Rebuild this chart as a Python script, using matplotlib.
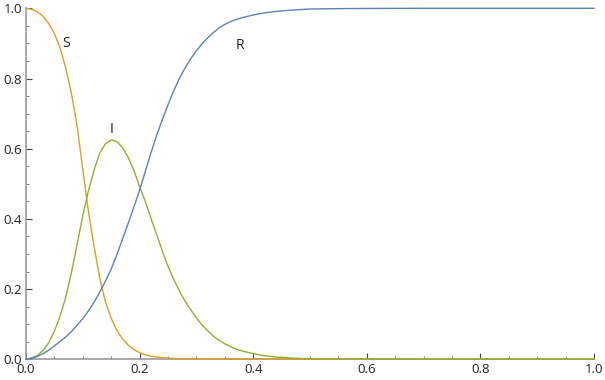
import matplotlib.pyplot as plt
from matplotlib.ticker import MultipleLocator

# values
s_t = [0.0, 0.01, 0.02, 0.03, 0.04, 0.05, 0.06, 0.07, 0.08, 0.09, 0.10, 0.11,
       0.12, 0.13, 0.14, 0.15, 0.16, 0.17, 0.18, 0.19, 0.20, 0.21, 0.22, 0.24,
       0.26, 0.28, 0.30, 0.35, 0.40, 1.0]
s_val = [1.0, 0.997, 0.990, 0.977, 0.957, 0.928, 0.887, 0.830, 0.757, 0.665, 0.540,
         0.420, 0.320, 0.230, 0.163, 0.117, 0.082, 0.058, 0.040, 0.028, 0.019, 0.013,
         0.009, 0.0045, 0.0022, 0.001, 0.0005, 0.0001, 0.0, 0.0]

i_t = [0.0, 0.01, 0.02, 0.03, 0.04, 0.05, 0.06, 0.07, 0.08, 0.09, 0.10, 0.11,
       0.12, 0.13, 0.14, 0.15, 0.16, 0.17, 0.18, 0.19, 0.20, 0.21, 0.22, 0.23,
       0.24, 0.25, 0.26, 0.27, 0.28, 0.29, 0.30, 0.31, 0.32, 0.33, 0.34, 0.35,
       0.36, 0.37, 0.38, 0.40, 0.42, 0.44, 0.46, 0.48, 0.50, 0.55, 0.60, 0.70, 1.0]
i_val = [0.0, 0.004, 0.011, 0.025, 0.047, 0.080, 0.123, 0.177, 0.247, 0.327, 0.410,
         0.480, 0.540, 0.588, 0.614, 0.625, 0.620, 0.603, 0.575, 0.538, 0.492, 0.450,
         0.402, 0.356, 0.308, 0.265, 0.228, 0.195, 0.166, 0.141, 0.118, 0.098, 0.081,
         0.066, 0.054, 0.044, 0.036, 0.029, 0.024, 0.016, 0.010, 0.0065, 0.0042,
         0.0027, 0.0018, 0.0007, 0.0003, 0.0, 0.0]

r_t = [0.0, 0.01, 0.02, 0.03, 0.04, 0.05, 0.06, 0.07, 0.08, 0.09, 0.10, 0.11,
       0.12, 0.13, 0.14, 0.15, 0.16, 0.17, 0.18, 0.19, 0.20, 0.21, 0.22, 0.23,
       0.24, 0.25, 0.26, 0.27, 0.28, 0.29, 0.30, 0.31, 0.32, 0.33, 0.34, 0.35,
       0.36, 0.37, 0.38, 0.40, 0.42, 0.44, 0.46, 0.48, 0.50, 0.55, 0.60, 0.70, 1.0]
r_val = [0.0, 0.003, 0.008, 0.016, 0.026, 0.038, 0.051, 0.064, 0.079, 0.097, 0.116,
         0.138, 0.163, 0.192, 0.223, 0.257, 0.298, 0.343, 0.388, 0.434, 0.482, 0.535,
         0.588, 0.638, 0.683, 0.725, 0.765, 0.800, 0.830, 0.856, 0.879, 0.899, 0.916,
         0.931, 0.944, 0.954, 0.962, 0.968, 0.973, 0.981, 0.987, 0.991, 0.994,
         0.996, 0.998, 0.999, 0.9996, 1.0, 1.0]

labels = ["S", "I", "R"]
label_pos = [(0.070, 0.90), (0.151, 0.656), (0.377, 0.893)]
colors = ["#E19C24", "#8FB032", "#5E81B5"]

plt.rcParams['font.family'] = ['Open Sans', 'DejaVu Sans']

fig = plt.figure(figsize=(6.05, 3.8), dpi=100)
ax = fig.add_axes([26 / 605, 20.7 / 380, 568 / 605, 351 / 380])

for t, v, c in zip([s_t, i_t, r_t], [s_val, i_val, r_val], colors):
    ax.plot(t, v, color=c, lw=1.0, clip_on=False, zorder=3,
            solid_joinstyle="round")

for lab, (x, y) in zip(labels, label_pos):
    ax.text(x, y, lab, fontsize=10, color="#222222", ha="center", va="center")

ax.set_xlim(0, 1)
ax.set_ylim(0, 1)
for side in ["top", "right"]:
    ax.spines[side].set_visible(False)
for side in ["left", "bottom"]:
    ax.spines[side].set_color("#999999")
    ax.spines[side].set_linewidth(1.2)

ax.xaxis.set_major_locator(MultipleLocator(0.2))
ax.xaxis.set_minor_locator(MultipleLocator(0.05))
ax.yaxis.set_major_locator(MultipleLocator(0.2))
ax.yaxis.set_minor_locator(MultipleLocator(0.05))
ax.xaxis.set_major_formatter(plt.FormatStrFormatter("%.1f"))
ax.yaxis.set_major_formatter(plt.FormatStrFormatter("%.1f"))
ax.tick_params(which="major", direction="in", length=4, width=0.8, color="#444444",
               labelsize=9.5, labelcolor="#222222", pad=3)
ax.tick_params(which="minor", direction="in", length=2, width=0.6, color="#666666")

fig.savefig("out.png", dpi=100)
